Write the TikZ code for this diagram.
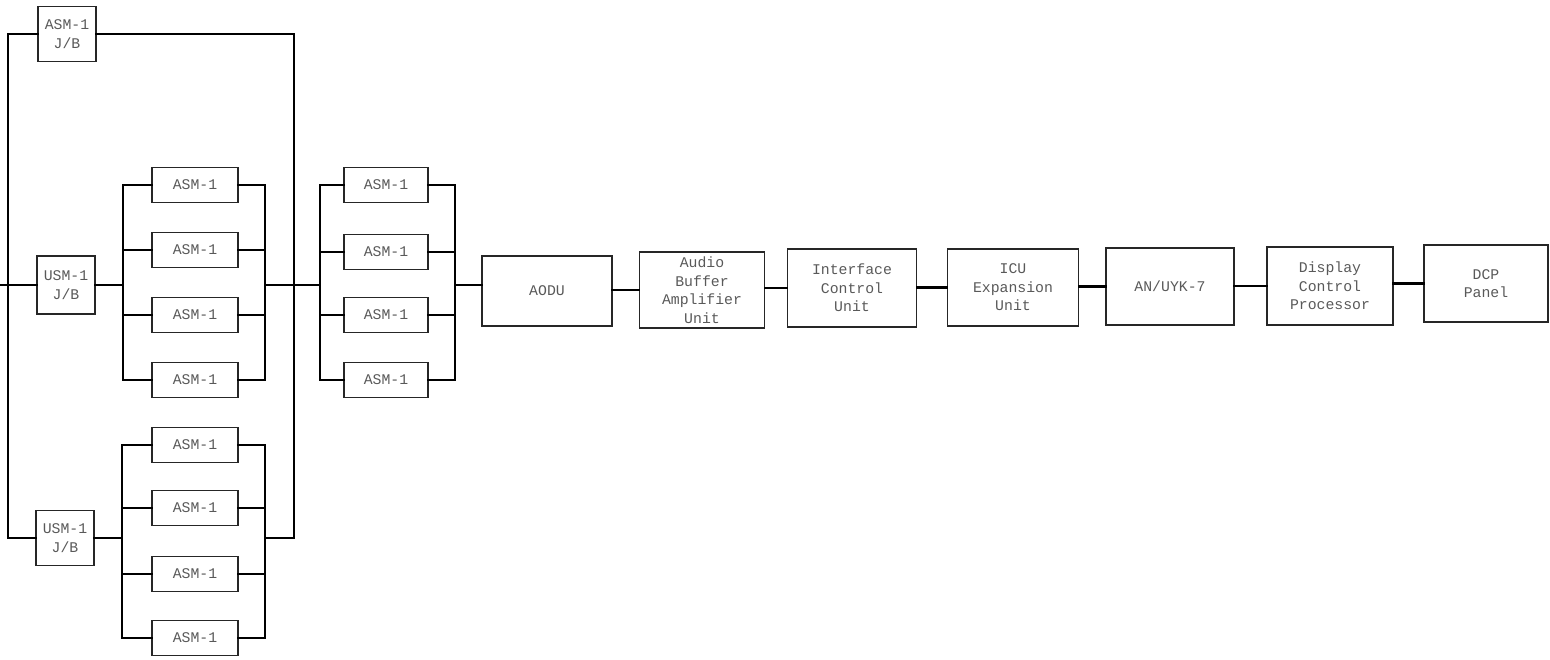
\documentclass[tikz,border=0pt]{standalone}
\usepackage{fontspec}
\newfontfamily\cour{Liberation Mono}
\begin{document}
\begin{tikzpicture}[x=1pt,y=-1pt,
  box/.style={draw=black!85,line width=1.3pt,fill=none,inner sep=0pt,align=center,
    font=\cour\fontsize{14.8}{18.5}\selectfont,text=black!65},
  asm/.style={box,minimum width=86pt,minimum height=35pt},
  jb/.style={box,minimum width=58pt,minimum height=55pt},
  unit/.style={box,minimum width=128pt,minimum height=76pt},
  wire/.style={line width=2.6pt,black,line cap=rect}]
\useasboundingbox (0,0) rectangle (1550,660);
% junction boxes
\node[jb] (tjb) at (67,34) {ASM-1\\J/B};
\node[jb,minimum height=58pt] (mjb) at (66,285) {USM-1\\J/B};
\node[jb] (bjb) at (65,538) {USM-1\\J/B};
% group 1
\node[asm] (a1) at (195,185) {ASM-1};
\node[asm] (a2) at (195,250) {ASM-1};
\node[asm] (a3) at (195,315) {ASM-1};
\node[asm] (a4) at (195,380) {ASM-1};
% group 2
\node[asm,minimum width=84pt] (c1) at (386,185) {ASM-1};
\node[asm,minimum width=84pt] (c2) at (386,252) {ASM-1};
\node[asm,minimum width=84pt] (c3) at (386,315) {ASM-1};
\node[asm,minimum width=84pt] (c4) at (386,380) {ASM-1};
% group 3
\node[asm] (d1) at (195,445) {ASM-1};
\node[asm] (d2) at (195,508) {ASM-1};
\node[asm] (d3) at (195,574) {ASM-1};
\node[asm] (d4) at (195,638) {ASM-1};
% chain
\node[unit,minimum width=130pt,minimum height=70pt] (aodu) at (547,291) {AODU};
\node[unit,minimum width=125pt] (abau) at (702,290) {Audio\\Buffer\\Amplifier\\Unit};
\node[unit,minimum width=129pt,minimum height=78pt] (icu) at (852,288) {Interface\\Control\\Unit};
\node[unit,minimum width=131pt,minimum height=77pt] (icue) at (1013,287.5) {ICU\\Expansion\\Unit};
\node[unit,minimum width=128pt,minimum height=77pt] (an) at (1170,286.5) {AN/UYK-7};
\node[unit,minimum width=126pt,minimum height=78pt] (dcp) at (1330,286) {Display\\Control\\Processor};
\node[unit,minimum width=124pt,minimum height=77pt] (pan) at (1486,283.5) {DCP\\Panel};
% coordinates of buses
\coordinate (lx) at (8,0);
\coordinate (rx) at (294,0);
\coordinate (g1l) at (123,0);
\coordinate (g1r) at (265,0);
\coordinate (g2l) at (320,0);
\coordinate (g2r) at (455,0);
\coordinate (g3l) at (122,0);
\coordinate (g3r) at (265,0);
\coordinate (in) at (0,285);
\coordinate (mid) at (0,285);
% outer loop
\draw[wire] (tjb.west) -- (tjb.west -| lx) -- (bjb.west -| lx) -- (bjb.west);
\draw[wire] (tjb.east) -- (tjb.east -| rx) -- (bjb.east -| rx) -- (bjb.east -| g3r);
% middle feed
\draw[wire] (in) -- (mjb.west);
\draw[wire] (mjb.east) -- (mjb.east -| g1l);
% group 1 buses
\draw[wire] (a1.west) -- (a1.west -| g1l) -- (a4.west -| g1l) -- (a4.west);
\draw[wire] (a1.east) -- (a1.east -| g1r) -- (a4.east -| g1r) -- (a4.east);
\draw[wire] (a2.west -| g1l) -- (a2.west);
\draw[wire] (a3.west -| g1l) -- (a3.west);
\draw[wire] (a2.east) -- (a2.east -| g1r);
\draw[wire] (a3.east) -- (a3.east -| g1r);
\draw[wire] (mid -| g1r) -- (mid -| g2l);
% group 2 buses
\draw[wire] (c1.west) -- (c1.west -| g2l) -- (c4.west -| g2l) -- (c4.west);
\draw[wire] (c1.east) -- (c1.east -| g2r) -- (c4.east -| g2r) -- (c4.east);
\draw[wire] (c2.west -| g2l) -- (c2.west);
\draw[wire] (c3.west -| g2l) -- (c3.west);
\draw[wire] (c2.east) -- (c2.east -| g2r);
\draw[wire] (c3.east) -- (c3.east -| g2r);
\draw[wire] (mid -| g2r) -- (mid -| aodu.west);
% group 3 buses
\draw[wire] (bjb.east) -- (bjb.east -| g3l);
\draw[wire] (d1.west) -- (d1.west -| g3l) -- (d4.west -| g3l) -- (d4.west);
\draw[wire] (d1.east) -- (d1.east -| g3r) -- (d4.east -| g3r) -- (d4.east);
\draw[wire] (d2.west -| g3l) -- (d2.west);
\draw[wire] (d3.west -| g3l) -- (d3.west);
\draw[wire] (d2.east) -- (d2.east -| g3r);
\draw[wire] (d3.east) -- (d3.east -| g3r);
% chain
\draw[wire] (aodu.east |- abau.west) -- (abau.west);
\draw[wire] (abau.east |- icu.west) -- (icu.west);
\draw[wire] (icu.east |- icue.west) -- (icue.west);
\draw[wire] (icue.east |- an.west) -- (an.west);
\draw[wire] (an.east |- dcp.west) -- (dcp.west);
\draw[wire] (dcp.east |- pan.west) -- (pan.west);
\end{tikzpicture}
\end{document}
